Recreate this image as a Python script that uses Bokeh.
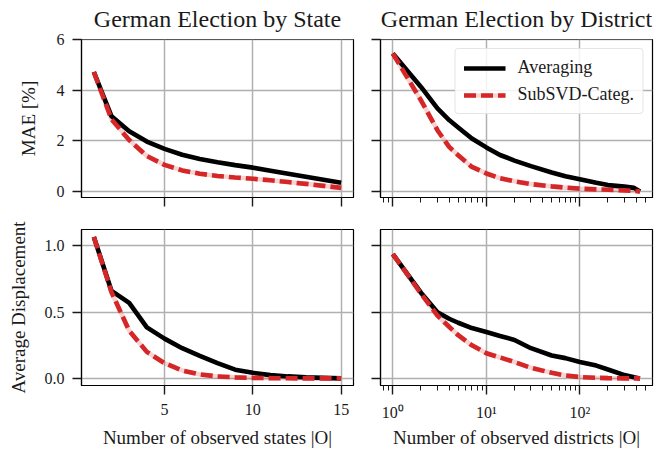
from bokeh.plotting import figure
from bokeh.layouts import row, column
from bokeh.models import (Range1d, FixedTicker, CustomJSTickFormatter, Legend,
                          LegendItem, NumeralTickFormatter)
from bokeh.embed import file_html
from bokeh.resources import INLINE

# ---------------- data ----------------
states_x = list(range(1, 16))
state_mae_avg = [4.72, 2.97, 2.38, 1.97, 1.68, 1.45, 1.28, 1.15, 1.04, 0.94, 0.82, 0.70, 0.58, 0.46, 0.34]
state_mae_sub = [4.72, 2.85, 2.03, 1.40, 1.05, 0.83, 0.70, 0.61, 0.55, 0.50, 0.44, 0.37, 0.30, 0.22, 0.14]
state_disp_avg = [1.067, 0.66, 0.57, 0.385, 0.30, 0.228, 0.17, 0.115, 0.066, 0.042, 0.025, 0.015, 0.008, 0.004, 0.0]
state_disp_sub = [1.067, 0.65, 0.36, 0.20, 0.115, 0.06, 0.03, 0.015, 0.008, 0.004, 0.002, 0.001, 0.0, 0.0, 0.0]

district_x = [1, 2, 3, 4, 5, 7, 10, 14, 20, 30, 50, 70, 100, 150, 200, 300, 380, 440]
district_mae_avg = [5.45, 4.13, 3.28, 2.82, 2.53, 2.09, 1.74, 1.44, 1.22, 1.00, 0.75, 0.60, 0.48, 0.34, 0.25, 0.19, 0.14, 0.0]
district_mae_sub = [5.45, 3.60, 2.42, 1.76, 1.43, 0.97, 0.71, 0.52, 0.40, 0.29, 0.20, 0.15, 0.11, 0.08, 0.066, 0.04, 0.02, 0.0]
district_disp_avg = [0.938, 0.647, 0.50, 0.45, 0.42, 0.38, 0.35, 0.32, 0.29, 0.228, 0.173, 0.153, 0.124, 0.097, 0.067, 0.025, 0.008, 0.0]
district_disp_sub = [0.938, 0.64, 0.474, 0.39, 0.326, 0.25, 0.19, 0.158, 0.124, 0.08, 0.042, 0.022, 0.01, 0.005, 0.002, 0.0, 0.0, 0.0]

state_xticks = [5, 10, 15]
log_major = [1, 10, 100]
log_minor = [0.8, 0.9, 2, 3, 4, 5, 6, 7, 8, 9, 20, 30, 40, 50, 60, 70, 80, 90, 200, 300, 400, 500, 600]
mae_yticks = [0, 2, 4, 6]
disp_yticks = [0, 0.5, 1.0]

titles = ["German Election by State", "German Election by District"]
labels = ["Averaging", "SubSVD-Categ."]

FONT = "Liberation Serif"
RED = "#d62728"
TXT = "#1a1a1a"

LW = [81, 14]
RW = [13, 5]
FW = 272
FH = 158


def make_fig(col, top, title=None):
    left, right = LW[col], RW[col]
    tb = 39 if top else 16
    bb = 16 if top else 63
    xtype = "linear" if col == 0 else "log"
    if col == 0:
        xr = Range1d(0.3, 15.7)
    else:
        xr = Range1d(10 ** -0.132, 10 ** 2.777)
    yr = Range1d(-0.24, 6.005) if top else Range1d(-0.0535, 1.1235)
    p = figure(width=left + FW + right, height=tb + FH + bb,
               x_range=xr, y_range=yr, x_axis_type=xtype,
               output_backend="svg", toolbar_location=None,
               min_border_left=left, min_border_right=right,
               min_border_top=tb, min_border_bottom=bb,
               title=title)
    p.background_fill_color = "white"
    p.border_fill_color = "white"
    p.outline_line_color = "black"
    p.outline_line_width = 1.2
    if title:
        p.title.text_font = FONT
        p.title.text_font_size = "24px"
        p.title.text_font_style = "normal"
        p.title.text_color = TXT
        p.title.align = "center"
        p.title.vertical_align = "top"
        p.title.standoff = 11
    p.grid.grid_line_color = "#b0b0b0"
    p.grid.grid_line_width = 1.5
    for ax in p.axis:
        ax.axis_line_color = "black"
        ax.axis_line_width = 1.2
        ax.major_tick_line_color = TXT
        ax.major_tick_line_width = 1.4
        ax.major_tick_in = 0
        ax.major_tick_out = 9
        ax.minor_tick_in = 0
        ax.minor_tick_out = 5
        ax.minor_tick_line_color = TXT
        ax.minor_tick_line_width = 1
        ax.major_label_text_font = FONT
        ax.major_label_text_font_size = "16px"
        ax.major_label_text_color = TXT
        ax.major_label_standoff = 8
        ax.axis_label_text_font = FONT
        ax.axis_label_text_font_size = "19px"
        ax.axis_label_text_font_style = "normal"
        ax.axis_label_text_color = TXT
    # x ticks
    if col == 0:
        p.xaxis.ticker = FixedTicker(ticks=state_xticks)
        p.xaxis.minor_tick_line_color = None
    else:
        p.xaxis.ticker = FixedTicker(ticks=log_major, minor_ticks=log_minor)
        p.xaxis.formatter = CustomJSTickFormatter(code="""
            const e = Math.round(Math.log10(tick));
            const sup = {"0":"\u2070","1":"\u00b9","2":"\u00b2","3":"\u00b3","-":"\u207b"};
            return "10" + String(e).split("").map(c => sup[c]).join("");
        """)
    # y ticks
    p.yaxis.ticker = FixedTicker(ticks=mae_yticks if top else disp_yticks)
    p.yaxis.minor_tick_line_color = None
    if not top:
        p.yaxis.formatter = NumeralTickFormatter(format="0.0")
    # hide labels where axes are shared
    if top:
        p.xaxis.formatter = CustomJSTickFormatter(code="return '';")
        p.xaxis.major_label_standoff = 0
        p.xaxis.major_label_text_font_size = "1px"
    if col == 1:
        p.yaxis.formatter = CustomJSTickFormatter(code="return '';")
        p.yaxis.major_label_standoff = 0
        p.yaxis.major_label_text_font_size = "1px"
    return p


def draw(p, x, avg, sub):
    pink = p.line(x, sub, line_color=RED, line_alpha=0.2, line_width=4.6)
    blk = p.line(x, avg, line_color="black", line_width=4.6)
    red = p.line(x, sub, line_color=RED, line_width=4.6, line_dash="12 5")
    return pink, blk, red


tl = make_fig(0, True, titles[0])
tr = make_fig(1, True, titles[1])
bl = make_fig(0, False)
br = make_fig(1, False)

draw(tl, states_x, state_mae_avg, state_mae_sub)
pk, bk, rd = draw(tr, district_x, district_mae_avg, district_mae_sub)
draw(bl, states_x, state_disp_avg, state_disp_sub)
draw(br, district_x, district_disp_avg, district_disp_sub)

tl.yaxis.axis_label = "MAE [%]"
tl.yaxis.axis_label_standoff = 15
bl.yaxis.axis_label = "Average Displacement"
bl.yaxis.axis_label_standoff = 13
bl.xaxis.axis_label = "Number of observed states |O|"
br.xaxis.axis_label = "Number of observed districts |O|"
bl.xaxis.major_label_standoff = 9
br.xaxis.major_label_standoff = 9
bl.xaxis.axis_label_standoff = 9
br.xaxis.axis_label_standoff = 3

legend = Legend(items=[LegendItem(label=labels[0], renderers=[bk]),
                       LegendItem(label=labels[1], renderers=[pk, rd])],
                location="top_right")
legend.label_text_font = FONT
legend.label_text_font_size = "18px"
legend.label_text_color = TXT
legend.glyph_width = 42
legend.glyph_height = 18
legend.label_standoff = 12
legend.spacing = 6
legend.padding = 8
legend.margin = 9
legend.border_line_color = "#cccccc"
legend.border_line_width = 1.2
legend.border_radius = 4
legend.background_fill_alpha = 0.85
tr.add_layout(legend)

layout = column(row(tl, tr), row(bl, br))

open("out.html", "w").write(file_html(layout, INLINE))
